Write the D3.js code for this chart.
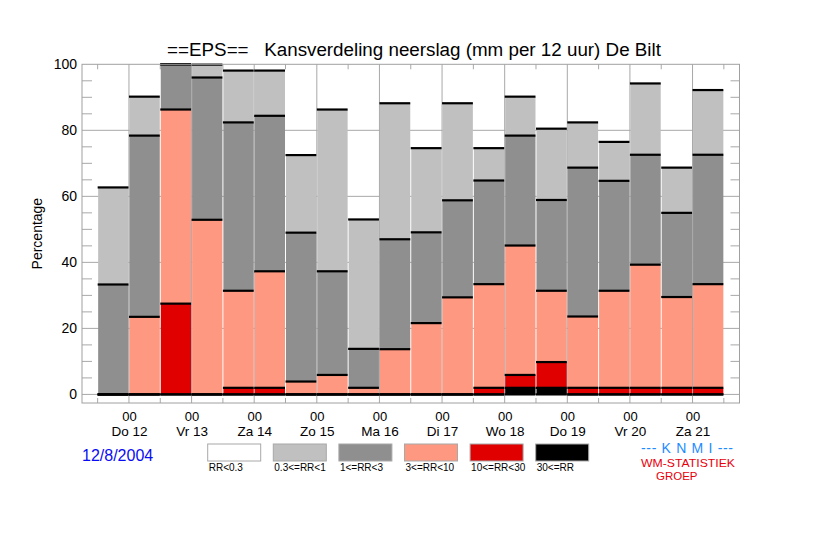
<!DOCTYPE html>
<html>
<head>
<meta charset="utf-8">
<script src="https://cdn.jsdelivr.net/npm/d3@7"></script>
<style>
  body { margin: 0; background: #fff; }
  svg { display: block; font-family: "Liberation Sans", Arial, sans-serif; }
</style>
</head>
<body>
<div id="chart-container"></div>
<script>
// 12-hourly periods, bar k runs from boundary k to k+1; day labels sit on the odd boundaries
const dayLabels = ["Do 12", "Vr 13", "Za 14", "Zo 15", "Ma 16", "Di 17", "Wo 18", "Do 19", "Vr 20", "Za 21"];
const dayTicks = [1, 3, 5, 7, 9, 11, 13, 15, 17, 19];
const hourLabel = "00";
const yTicks = [0, 20, 40, 60, 80, 100];

// percentage of members per class, bottom to top
const rr30 = [0, 0, 0, 0, 0, 0, 0, 0, 0, 0, 0, 0, 0, 2.0, 2.0, 0, 0, 0, 0, 0];
const rr10 = [0, 0, 27.5, 0, 2.0, 2.0, 0, 0, 0, 0, 0, 0, 2.0, 3.9, 7.8, 2.0, 2.0, 2.0, 2.0, 2.0];
const rr3 = [0, 23.5, 58.8, 52.9, 29.4, 35.3, 3.9, 5.9, 2.0, 13.7, 21.6, 29.4, 31.4, 39.2, 21.6, 21.6, 29.4, 37.3, 27.5, 31.4];
const rr1 = [33.3, 54.9, 13.7, 43.1, 51.0, 47.1, 45.1, 31.4, 11.8, 33.3, 27.5, 29.4, 31.4, 33.3, 27.5, 45.1, 33.3, 33.3, 25.5, 39.2];
const rr03 = [29.4, 11.8, 0, 3.9, 15.7, 13.7, 23.5, 49.0, 39.2, 41.2, 25.5, 29.4, 9.8, 11.8, 21.6, 13.7, 11.8, 21.6, 13.7, 19.6];

const seriesKeys = ["rr30", "rr10", "rr3", "rr1", "rr03"];
const seriesColors = ["#000000", "#e00000", "#ff9880", "#8f8f8f", "#c0c0c0"];

const legendLabels = ["RR<0.3", "0.3<=RR<1", "1<=RR<3", "3<=RR<10", "10<=RR<30", "30<=RR"];
const legendColors = ["#ffffff", "#c0c0c0", "#8f8f8f", "#ff9880", "#e00000", "#000000"];

const width = 822, height = 538;
const plot = { left: 82, right: 739.5, top: 64.3, bottom: 403 };

const svg = d3.select("#chart-container")
  .append("svg")
    .attr("width", width)
    .attr("height", height);

const x = d3.scaleLinear()
  .domain([-0.5, rr1.length + 0.5])
  .range([plot.left, plot.right]);

const y = d3.scaleLinear()
  .domain([-2.6, 100])
  .range([plot.bottom, plot.top]);

const table = rr1.map((v, i) => ({ i: i, rr30: rr30[i], rr10: rr10[i], rr3: rr3[i], rr1: rr1[i], rr03: rr03[i] }));
const stacked = d3.stack().keys(seriesKeys)(table);

const gridColor = "#a8a8a8";

// horizontal grid every 20
svg.append("g")
  .selectAll("line")
  .data(yTicks.slice(0, -1))
  .join("line")
    .attr("x1", plot.left)
    .attr("x2", plot.right)
    .attr("y1", d => y(d))
    .attr("y2", d => y(d))
    .attr("stroke", gridColor)
    .attr("stroke-width", 1);

// minor ticks every 5, both sides
const minor = d3.range(5, 100, 5).filter(d => d % 20 !== 0);
svg.append("g")
  .selectAll("line")
  .data(minor)
  .join("line")
    .attr("x1", plot.left)
    .attr("x2", plot.left + 10)
    .attr("y1", d => y(d))
    .attr("y2", d => y(d))
    .attr("stroke", gridColor);
svg.append("g")
  .selectAll("line")
  .data(minor)
  .join("line")
    .attr("x1", plot.right - 9)
    .attr("x2", plot.right)
    .attr("y1", d => y(d))
    .attr("y2", d => y(d))
    .attr("stroke", gridColor);

// vertical: full lines at day boundaries, short ticks at 12 uur
const boundaries = d3.range(0, rr1.length + 1);
svg.append("g")
  .selectAll("line")
  .data(dayTicks)
  .join("line")
    .attr("x1", d => x(d))
    .attr("x2", d => x(d))
    .attr("y1", plot.top)
    .attr("y2", plot.bottom)
    .attr("stroke", gridColor);
const halfTicks = boundaries.filter(d => dayTicks.indexOf(d) < 0);
svg.append("g")
  .selectAll("line")
  .data(halfTicks)
  .join("line")
    .attr("x1", d => x(d))
    .attr("x2", d => x(d))
    .attr("y1", plot.top)
    .attr("y2", plot.top + 5)
    .attr("stroke", gridColor);
svg.append("g")
  .selectAll("line")
  .data(halfTicks)
  .join("line")
    .attr("x1", d => x(d))
    .attr("x2", d => x(d))
    .attr("y1", plot.bottom - 5)
    .attr("y2", plot.bottom)
    .attr("stroke", gridColor);

// stacked bars
const step = x(1) - x(0);
svg.append("g")
  .selectAll("g")
  .data(stacked)
  .join("g")
    .attr("fill", (d, i) => seriesColors[i])
  .selectAll("rect")
  .data(d => d)
  .join("rect")
    .attr("x", d => x(d.data.i) + 0.5)
    .attr("width", step - 1)
    .attr("y", d => y(d[1]))
    .attr("height", d => y(d[0]) - y(d[1]));

// black class borders on each cumulative level (and the zero line)
const levels = [];
table.forEach((row, i) => {
  levels.push({ i: i, v: 0 });
  stacked.forEach(s => levels.push({ i: i, v: s[i][1] }));
});
svg.append("g")
  .selectAll("line")
  .data(levels)
  .join("line")
    .attr("x1", d => x(d.i))
    .attr("x2", d => x(d.i + 1) - 0.5)
    .attr("y1", d => y(d.v))
    .attr("y2", d => y(d.v))
    .attr("stroke", "#000")
    .attr("stroke-width", 2.2);

// frame
svg.append("rect")
  .attr("x", plot.left)
  .attr("y", plot.top)
  .attr("width", plot.right - plot.left)
  .attr("height", plot.bottom - plot.top)
  .attr("fill", "none")
  .attr("stroke", "#a0a0a0");

// y axis labels
const yAxis = svg.append("g")
  .attr("transform", `translate(${plot.left},0)`)
  .call(d3.axisLeft(y)
    .tickValues(yTicks)
    .tickSize(0)
    .tickPadding(5));
yAxis.select(".domain").remove();
yAxis.selectAll(".tick text")
  .style("font-size", "14px")
  .style("font-family", "\"Liberation Sans\", Arial, sans-serif")
  .attr("fill", "#000");

// x axis labels, two lines as separate texts
const xAxis = svg.append("g")
  .attr("transform", `translate(0,${plot.bottom})`)
  .call(d3.axisBottom(x)
    .tickValues(dayTicks)
    .tickSize(0)
    .tickFormat(""));
xAxis.select(".domain").remove();
xAxis.selectAll(".tick").each(function (d, i) {
  const tick = d3.select(this);
  tick.append("text")
    .attr("fill", "#000")
    .attr("text-anchor", "middle")
    .attr("y", 17.5)
    .attr("dy", 0)
    .style("font-size", "13px")
    .style("font-family", "\"Liberation Sans\", Arial, sans-serif")
    .text(hourLabel);
  tick.append("text")
    .attr("fill", "#000")
    .attr("text-anchor", "middle")
    .attr("y", 32.5)
    .attr("dy", 0)
    .style("font-size", "13.5px")
    .style("font-family", "\"Liberation Sans\", Arial, sans-serif")
    .text(dayLabels[i]);
});

// y label
svg.append("text")
  .attr("transform", `translate(42,${(plot.top + plot.bottom) / 2}) rotate(-90)`)
  .attr("text-anchor", "middle")
  .style("font-size", "14px")
  .text("Percentage");

// title
svg.append("text")
  .attr("x", 414)
  .attr("y", 56)
  .attr("text-anchor", "middle")
  .style("font-size", "18.8px")
  .style("white-space", "pre")
  .attr("xml:space", "preserve")
  .text("==EPS==   Kansverdeling neerslag (mm per 12 uur) De Bilt");

// run date
svg.append("text")
  .attr("x", 82)
  .attr("y", 461)
  .attr("fill", "#0a0af5")
  .style("font-size", "16px")
  .text("12/8/2004");

// legend
const legend = svg.append("g")
  .selectAll("g")
  .data(legendLabels)
  .join("g")
    .attr("transform", (d, i) => `translate(${207.7 + i * 65.6},444)`);
legend.append("rect")
  .attr("width", 53)
  .attr("height", 17)
  .attr("fill", (d, i) => legendColors[i])
  .attr("stroke", "#a8a8a8");
legend.append("text")
  .attr("x", 1)
  .attr("y", 27)
  .style("font-size", "10px")
  .text(d => d);

// KNMI stamp
svg.append("text")
  .attr("x", 641)
  .attr("y", 453)
  .attr("fill", "#1e8cff")
  .attr("textLength", 92)
  .attr("lengthAdjust", "spacing")
  .style("font-size", "14px")
  .attr("xml:space", "preserve")
  .text("--- K N M I ---");
svg.append("text")
  .attr("x", 641)
  .attr("y", 467)
  .attr("fill", "#e8000b")
  .attr("textLength", 94)
  .attr("lengthAdjust", "spacingAndGlyphs")
  .style("font-size", "11.5px")
  .text("WM-STATISTIEK");
svg.append("text")
  .attr("x", 656)
  .attr("y", 480)
  .attr("fill", "#e8000b")
  .style("font-size", "11.5px")
  .text("GROEP");
</script>
</body>
</html>
